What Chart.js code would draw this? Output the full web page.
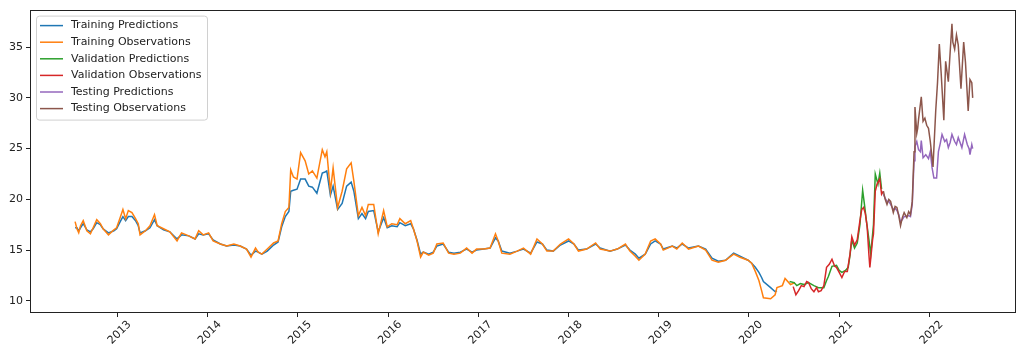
<!DOCTYPE html>
<html>
<head>
    <title>Training / Validation / Testing</title>
    <script src="https://cdn.jsdelivr.net/npm/chart.js"></script>
    <style>
        body { margin: 0; background: #fff; }
        #wrap { width: 1024px; height: 357px; position: relative; }
    </style>
</head>
<body>
    <div id="wrap">
        <canvas id="predChart"></canvas>
    </div>

    <script>
        // Eğitim dönemi (yıl ondalık olarak)
        var trainObsYears = [
            2012.53, 2012.55, 2012.57, 2012.59, 2012.62, 2012.66, 2012.70, 2012.73, 2012.77, 2012.81, 2012.84, 2012.90, 2012.96, 2012.99,
            2013.03, 2013.06, 2013.09, 2013.12, 2013.16, 2013.20, 2013.23, 2013.25, 2013.31, 2013.36, 2013.41, 2013.44, 2013.51, 2013.58, 2013.66, 2013.71, 2013.79, 2013.86, 2013.90, 2013.95,
            2014.01, 2014.06, 2014.14, 2014.21, 2014.29, 2014.36, 2014.43, 2014.48, 2014.53, 2014.56, 2014.60, 2014.66, 2014.73, 2014.78, 2014.82, 2014.86, 2014.90, 2014.92, 2014.95, 2014.99,
            2015.03, 2015.08, 2015.12, 2015.16, 2015.21, 2015.27, 2015.30, 2015.32, 2015.36, 2015.39, 2015.44, 2015.49, 2015.54, 2015.59, 2015.62, 2015.67, 2015.71, 2015.75, 2015.78, 2015.84, 2015.89, 2015.95, 2015.99,
            2016.04, 2016.10, 2016.13, 2016.19, 2016.25, 2016.28, 2016.32, 2016.36, 2016.39, 2016.45, 2016.50, 2016.54, 2016.61, 2016.67, 2016.73, 2016.80, 2016.87, 2016.93, 2016.98,
            2017.06, 2017.13, 2017.19, 2017.22, 2017.26, 2017.35, 2017.43, 2017.50, 2017.58, 2017.65, 2017.71, 2017.76, 2017.83, 2017.91,
            2018.00, 2018.06, 2018.11, 2018.20, 2018.30, 2018.35, 2018.46, 2018.54, 2018.63, 2018.68, 2018.74, 2018.78, 2018.85, 2018.91, 2018.96,
            2019.02, 2019.05, 2019.15, 2019.20, 2019.26, 2019.33, 2019.44, 2019.52, 2019.59, 2019.66, 2019.74, 2019.83, 2019.90, 2019.99,
            2020.03, 2020.07, 2020.11, 2020.14, 2020.16, 2020.24, 2020.29, 2020.31, 2020.37, 2020.40, 2020.46, 2020.51
        ];
        var trainObsValues = [
            17.8, 17.1, 16.7, 17.4, 17.9, 16.9, 16.6, 17.2, 18.0, 17.6, 17.1, 16.5, 17.0, 17.2,
            18.2, 19.0, 18.1, 18.9, 18.7, 18.1, 17.6, 16.5, 16.9, 17.4, 18.5, 17.4, 17.1, 16.8, 15.9, 16.7, 16.4, 16.1, 16.9, 16.5,
            16.7, 15.9, 15.6, 15.4, 15.6, 15.4, 15.1, 14.3, 15.2, 14.8, 14.6, 15.1, 15.7, 15.9, 17.6, 18.8, 19.2, 22.9, 22.2, 22.0,
            24.6, 23.8, 22.5, 22.8, 22.1, 24.9, 24.2, 24.7, 20.8, 23.1, 19.2, 20.8, 23.0, 23.6, 21.8, 18.4, 19.2, 18.4, 19.5, 19.5, 16.6, 18.9, 17.3,
            17.6, 17.5, 18.1, 17.6, 17.9, 17.1, 15.9, 14.3, 14.8, 14.5, 14.7, 15.6, 15.7, 14.7, 14.6, 14.7, 15.2, 14.7, 15.1,
            15.1, 15.2, 16.6, 15.9, 14.7, 14.6, 14.9, 15.2, 14.6, 16.1, 15.6, 14.9, 14.9, 15.6,
            16.1, 15.6, 14.9, 15.1, 15.7, 15.1, 14.9, 15.1, 15.6, 14.9, 14.4, 14.0, 14.6, 15.9, 16.1,
            15.6, 15.0, 15.4, 15.1, 15.7, 15.1, 15.4, 15.0, 14.0, 13.8, 14.0, 14.6, 14.3, 14.0,
            13.7, 12.9, 12.0, 11.0, 10.3, 10.2, 10.6, 11.3, 11.5, 12.2, 11.6, 11.8
        ];

        var trainPredYears = trainObsYears.slice(0, trainObsYears.indexOf(2020.31) + 1);
        var trainPredValues = [
            17.2, 17.2, 16.9, 17.2, 17.6, 17.0, 16.8, 17.1, 17.7, 17.5, 17.1, 16.7, 16.9, 17.1,
            17.8, 18.3, 17.9, 18.3, 18.3, 17.9, 17.4, 16.7, 16.9, 17.2, 18.0, 17.4, 17.0, 16.8, 16.1, 16.5, 16.4, 16.1, 16.6, 16.5,
            16.6, 16.0, 15.6, 15.4, 15.5, 15.4, 15.1, 14.5, 14.9, 14.8, 14.6, 14.9, 15.5, 15.8, 17.3, 18.3, 18.8, 20.8, 20.9, 21.0,
            22.0, 22.0, 21.3, 21.2, 20.6, 22.6, 22.7, 22.8, 20.4, 21.3, 19.0, 19.6, 21.3, 21.7, 20.8, 18.1, 18.6, 18.1, 18.8, 18.9, 16.8, 18.2, 17.2,
            17.4, 17.3, 17.7, 17.4, 17.6, 17.1, 16.0, 14.6, 14.8, 14.6, 14.8, 15.4, 15.6, 14.8, 14.7, 14.8, 15.1, 14.8, 15.0,
            15.1, 15.2, 16.2, 15.9, 14.9, 14.7, 14.9, 15.1, 14.7, 15.8, 15.6, 15.0, 14.9, 15.5,
            15.9, 15.6, 15.0, 15.1, 15.6, 15.2, 14.9, 15.1, 15.5, 15.0, 14.6, 14.2, 14.6, 15.6, 15.9,
            15.6, 15.1, 15.4, 15.2, 15.6, 15.2, 15.4, 15.1, 14.2, 13.9, 14.0, 14.7, 14.4, 14.0,
            13.7, 13.3, 12.8, 12.3, 11.9, 11.3, 10.9, 11.0
        ];

        // Doğrulama dönemi
        var valPredYears = [2020.45, 2020.50, 2020.53, 2020.57, 2020.61, 2020.66, 2020.72, 2020.77, 2020.83, 2020.86, 2020.88, 2020.92, 2020.97, 2021.00, 2021.03, 2021.07, 2021.10, 2021.12, 2021.14, 2021.17, 2021.20, 2021.23, 2021.26, 2021.28, 2021.30, 2021.33, 2021.35, 2021.38, 2021.40, 2021.43, 2021.45, 2021.47];
        var valPredValues = [11.9, 11.8, 11.5, 11.7, 11.6, 11.8, 11.5, 11.3, 11.3, 12.0, 12.4, 13.4, 13.5, 13.0, 12.8, 13.0, 13.3, 14.5, 16.0, 15.2, 15.7, 17.5, 20.9, 19.5, 18.0, 16.0, 14.6, 17.5, 22.5, 21.5, 22.6, 21.0];

        var valObsYears = [2020.49, 2020.52, 2020.55, 2020.58, 2020.61, 2020.64, 2020.66, 2020.69, 2020.72, 2020.75, 2020.77, 2020.80, 2020.83, 2020.86, 2020.89, 2020.92, 2020.95, 2020.97, 2021.00, 2021.03, 2021.06, 2021.09, 2021.12, 2021.14, 2021.17, 2021.20, 2021.23, 2021.25, 2021.27, 2021.29, 2021.31, 2021.33, 2021.34, 2021.37, 2021.38, 2021.40, 2021.42, 2021.45, 2021.47, 2021.49];
        var valObsValues = [11.4, 10.6, 11.0, 11.5, 11.4, 11.9, 11.8, 11.2, 10.9, 11.3, 10.9, 11.0, 11.5, 13.3, 13.6, 14.1, 13.4, 13.3, 12.8, 12.3, 12.9, 12.9, 14.6, 16.3, 15.5, 16.0, 17.9, 19.0, 19.2, 18.6, 17.3, 14.5, 13.3, 16.0, 16.6, 20.8, 21.5, 22.0, 20.5, 20.8];

        // Test dönemi
        var testYears = [2021.49, 2021.51, 2021.53, 2021.55, 2021.57, 2021.60, 2021.62, 2021.64, 2021.66, 2021.68, 2021.70, 2021.72, 2021.75, 2021.77, 2021.79, 2021.81, 2021.83, 2021.84, 2021.86, 2021.87, 2021.88, 2021.91, 2021.93, 2021.95, 2021.97, 2021.99, 2022.01, 2022.04, 2022.07, 2022.09, 2022.11, 2022.13, 2022.16, 2022.18, 2022.21, 2022.23, 2022.25, 2022.26, 2022.28, 2022.30, 2022.32, 2022.35, 2022.38, 2022.40, 2022.43, 2022.45, 2022.47, 2022.48];
        var testObsValues = [20.8, 20.0, 19.5, 20.0, 19.8, 18.7, 19.3, 19.2, 18.4, 17.4, 18.2, 18.7, 18.2, 18.8, 18.5, 19.8, 24.7, 29.1, 26.5, 27.0, 27.9, 30.1, 27.7, 28.0, 27.3, 27.0, 25.7, 23.2, 28.7, 31.5, 35.3, 32.5, 27.8, 33.6, 31.6, 34.5, 37.3, 35.5, 34.8, 36.2, 35.2, 30.9, 35.5, 33.5, 28.7, 31.8, 31.5, 30.0];

        var testPredYears = [2021.49, 2021.51, 2021.53, 2021.55, 2021.57, 2021.60, 2021.62, 2021.64, 2021.66, 2021.68, 2021.70, 2021.72, 2021.75, 2021.77, 2021.79, 2021.81, 2021.83, 2021.84, 2021.86, 2021.88, 2021.90, 2021.91, 2021.93, 2021.96, 2021.99, 2022.01, 2022.03, 2022.05, 2022.08, 2022.10, 2022.12, 2022.14, 2022.17, 2022.19, 2022.21, 2022.23, 2022.25, 2022.28, 2022.30, 2022.32, 2022.34, 2022.36, 2022.39, 2022.42, 2022.44, 2022.45, 2022.47, 2022.48];
        var testPredValues = [20.5, 20.1, 19.8, 19.8, 19.5, 19.0, 19.1, 18.9, 18.5, 17.8, 18.0, 18.3, 18.3, 18.4, 18.3, 19.5, 23.8, 25.2, 25.7, 24.9, 24.7, 25.8, 24.1, 24.4, 24.0, 24.7, 23.1, 22.1, 22.1, 24.7, 25.5, 26.4, 25.7, 25.9, 25.1, 25.6, 26.4, 25.7, 25.4, 26.1, 25.6, 25.1, 26.4, 25.4, 25.0, 24.4, 25.4, 25.0];

        var yearTicks = [2013, 2014, 2015, 2016, 2017, 2018, 2019, 2020, 2021, 2022];
        var valueTicks = [10, 15, 20, 25, 30, 35];

        var seriesLabels = ['Training Predictions', 'Training Observations', 'Validation Predictions', 'Validation Observations', 'Testing Predictions', 'Testing Observations'];
        var seriesColors = ['#1f77b4', '#ff7f0e', '#2ca02c', '#d62728', '#9467bd', '#8c564b'];

        function toPoints(xs, ys) {
            var pts = [];
            for (var i = 0; i < xs.length; i++) pts.push({ x: xs[i], y: ys[i] });
            return pts;
        }

        var seriesData = [
            toPoints(trainPredYears, trainPredValues),
            toPoints(trainObsYears, trainObsValues),
            toPoints(valPredYears, valPredValues),
            toPoints(valObsYears, valObsValues),
            toPoints(testPredYears, testPredValues),
            toPoints(testYears, testObsValues)
        ];

        var datasets = seriesData.map(function (pts, i) {
            return {
                label: seriesLabels[i],
                data: pts,
                borderColor: seriesColors[i],
                backgroundColor: seriesColors[i],
                borderWidth: 1.5,
                pointRadius: 0,
                tension: 0,
                fill: false,
                order: seriesLabels.length - i // sonraki seri üstte çizilsin
            };
        });

        var FONT = 'DejaVu Sans';

        // Çerçeve ve grafik içindeki açıklama kutusu
        var framePlugin = {
            id: 'frameAndLegend',
            afterDraw: function (chart) {
                var ctx = chart.ctx;
                var a = chart.chartArea;
                ctx.save();
                ctx.strokeStyle = '#222';
                ctx.lineWidth = 1;
                ctx.strokeRect(Math.round(a.left) + 0.5, Math.round(a.top) + 0.5,
                    Math.round(a.right - a.left) - 1, Math.round(a.bottom - a.top) - 1);

                // legend
                var bx = a.left + 6, by = a.top + 6, bw = 171, bh = 104;
                ctx.fillStyle = 'rgba(255,255,255,0.8)';
                ctx.strokeStyle = '#d0d0d0';
                ctx.beginPath();
                ctx.roundRect(bx + 0.5, by + 0.5, bw, bh, 3);
                ctx.fill();
                ctx.stroke();

                ctx.font = '11px "' + FONT + '"';
                ctx.textBaseline = 'middle';
                ctx.textAlign = 'left';
                chart.data.datasets.forEach(function (ds, i) {
                    var y = by + 10 + i * 16.6;
                    ctx.strokeStyle = ds.borderColor;
                    ctx.lineWidth = 1.5;
                    ctx.beginPath();
                    ctx.moveTo(bx + 4, y);
                    ctx.lineTo(bx + 27, y);
                    ctx.stroke();
                    ctx.fillStyle = '#222';
                    ctx.fillText(ds.label, bx + 35, y);
                });
                ctx.restore();
            }
        };

        var ctx = document.getElementById('predChart').getContext('2d');
        var chart = new Chart(ctx, {
            type: 'line',
            data: { datasets: datasets },
            options: {
                responsive: true,
                maintainAspectRatio: false,
                animation: false,
                layout: { padding: { left: 0, right: 8, top: 7, bottom: 0 } },
                plugins: {
                    legend: { display: false },
                    tooltip: { enabled: false }
                },
                scales: {
                    x: {
                        type: 'linear',
                        min: 2012.03,
                        max: 2022.96,
                        afterFit: function (s) { s.height = 44; },
                        afterBuildTicks: function (s) {
                            s.ticks = yearTicks.map(function (v) { return { value: v }; });
                        },
                        grid: { display: true, drawOnChartArea: false, drawTicks: true, tickLength: 4, color: '#222' },
                        border: { display: false },
                        ticks: {
                            minRotation: 45,
                            maxRotation: 45,
                            autoSkip: false,
                            labelOffset: 12,
                            padding: 1,
                            color: '#222',
                            font: { family: FONT, size: 11 },
                            callback: function (v) { return String(v); }
                        }
                    },
                    y: {
                        type: 'linear',
                        min: 8.8,
                        max: 38.7,
                        afterFit: function (s) { s.width = 30; },
                        afterBuildTicks: function (s) {
                            s.ticks = valueTicks.map(function (v) { return { value: v }; });
                        },
                        grid: { display: true, drawOnChartArea: false, drawTicks: true, tickLength: 4, color: '#222' },
                        border: { display: false },
                        ticks: {
                            padding: 3,
                            color: '#222',
                            font: { family: FONT, size: 11 },
                            callback: function (v) { return String(v); }
                        }
                    }
                }
            },
            plugins: [framePlugin]
        });
    </script>
</body>
</html>
